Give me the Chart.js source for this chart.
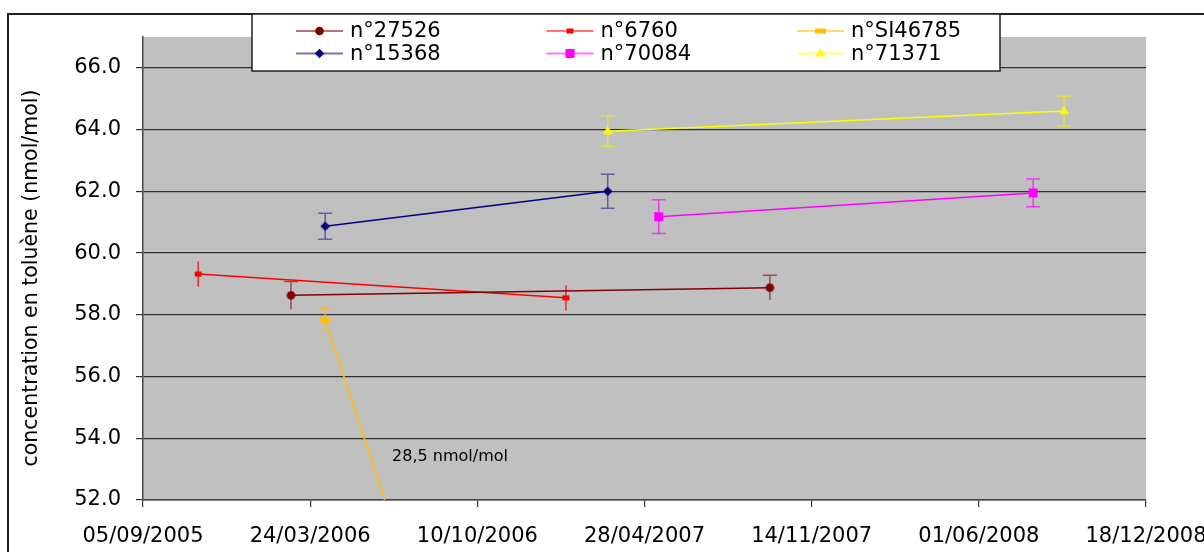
<!DOCTYPE html>
<html>
<head>
<meta charset="utf-8">
<script src="https://cdn.jsdelivr.net/npm/chart.js@4.4.0/dist/chart.umd.min.js"></script>
<style>
  html, body { margin: 0; padding: 0; background: #fff; }
  canvas { display: block; }
</style>
</head>
<body>
<canvas id="toluene-chart" width="1204" height="552"></canvas>
<script>
// dates dd/mm/yyyy, values in nmol/mol, err = half length of the error bar
var axisStart = '05/09/2005';
var axisDays = 1200;
var tickStep = 200;
var yMin = 52, yMax = 67, yStep = 2;
var yTitle = 'concentration en toluène (nmol/mol)';

var names = ['n°27526', 'n°6760', 'n°SI46785', 'n°15368', 'n°70084', 'n°71371'];

var dates27526 = ['01/03/2006', '25/09/2007'];
var vals27526 = [58.63, 58.88];
var err27526 = [0.45, 0.40];

var dates6760 = ['10/11/2005', '24/01/2007'];
var vals6760 = [59.32, 58.55];
var err6760 = [0.41, 0.41];

var datesSI46785 = ['11/04/2006', '03/04/2007'];
var valsSI46785 = [57.84, 28.5];
var errSI46785 = [0.38, 0.38];

var dates15368 = ['11/04/2006', '15/03/2007'];
var vals15368 = [60.87, 62.0];
var err15368 = [0.42, 0.55];

var dates70084 = ['15/05/2007', '05/08/2008'];
var vals70084 = [61.18, 61.95];
var err70084 = [0.55, 0.45];

var dates71371 = ['15/03/2007', '11/09/2008'];
var vals71371 = [63.95, 64.6];
var err71371 = [0.50, 0.48];

// note for the point that falls off the chart
var noteText = '28,5 nmol/mol';
var noteDate = '30/06/2006';
var noteValue = 53.4;

var FONT = 'DejaVu Sans';

function toDay(s) {
  var p = s.split('/');
  return Date.UTC(+p[2], +p[1] - 1, +p[0]) / 86400000;
}
var day0 = toDay(axisStart);

function fmtDay(v) {
  var d = new Date((day0 + v) * 86400000);
  var dd = ('0' + d.getUTCDate()).slice(-2);
  var mm = ('0' + (d.getUTCMonth() + 1)).slice(-2);
  return dd + '/' + mm + '/' + d.getUTCFullYear();
}

function pts(dates, vals) {
  return dates.map(function (d, i) { return { x: toDay(d) - day0, y: vals[i] }; });
}

// markers
var markers = [
  { type: 'circle', r: 4.3 },
  { type: 'rect', w: 7, h: 5 },
  { type: 'rect', w: 11, h: 5 },
  { type: 'diamond', r: 4.8 },
  { type: 'rect', w: 9, h: 9 },
  { type: 'triangle', r: 5 }
];
var colors = ['#800000', '#FF0000', '#FFC000', '#000080', '#FF00FF', '#FFFF00'];
var barColors = ['rgba(128,0,0,0.6)', 'rgba(255,0,0,0.8)', 'rgba(255,192,0,0.85)',
                 'rgba(0,0,128,0.5)', 'rgba(255,0,255,0.7)', 'rgba(240,240,0,0.65)'];
var caps = [[true, false], [false, false], [true, false], [true, true], [true, true], [true, true]];

function drawMarker(ctx, m, x, y, color) {
  ctx.fillStyle = color;
  ctx.beginPath();
  if (m.type === 'circle') {
    ctx.arc(x, y, m.r, 0, Math.PI * 2);
  } else if (m.type === 'diamond') {
    ctx.moveTo(x, y - m.r); ctx.lineTo(x + m.r, y); ctx.lineTo(x, y + m.r); ctx.lineTo(x - m.r, y);
    ctx.closePath();
  } else if (m.type === 'triangle') {
    ctx.moveTo(x, y - m.r); ctx.lineTo(x + m.r, y + m.r * 0.6); ctx.lineTo(x - m.r, y + m.r * 0.6);
    ctx.closePath();
  } else {
    ctx.rect(x - m.w / 2, y - m.h / 2, m.w, m.h);
  }
  ctx.fill();
}

function markerImage(m, color) {
  var c = document.createElement('canvas');
  c.width = 15; c.height = 15;
  drawMarker(c.getContext('2d'), m, 7.5, 7.5, color);
  return c;
}

var allData = [
  [dates27526, vals27526, err27526],
  [dates6760, vals6760, err6760],
  [datesSI46785, valsSI46785, errSI46785],
  [dates15368, vals15368, err15368],
  [dates70084, vals70084, err70084],
  [dates71371, vals71371, err71371]
];

var datasets = allData.map(function (s, i) {
  return {
    label: names[i],
    data: pts(s[0], s[1]),
    errors: s[2],
    borderColor: colors[i],
    backgroundColor: colors[i],
    borderWidth: 1.5,
    pointStyle: markerImage(markers[i], colors[i]),
    pointRadius: 5,
    tension: 0,
    fill: false
  };
});

var bgPlugin = {
  id: 'bg',
  beforeDraw: function (chart) {
    var ctx = chart.ctx, a = chart.chartArea;
    ctx.save();
    ctx.fillStyle = '#fff';
    ctx.fillRect(0, 0, chart.width, chart.height);
    ctx.fillStyle = '#C0C0C0';
    ctx.fillRect(a.left, a.top, a.right - a.left, a.bottom - a.top);
    ctx.strokeStyle = '#222';
    ctx.lineWidth = 2;
    ctx.strokeRect(8, 14, 1400, 800);
    // y axis title
    ctx.translate(32, 278);
    ctx.rotate(-Math.PI / 2);
    ctx.fillStyle = '#000';
    ctx.font = '20.5px "' + FONT + '"';
    ctx.textAlign = 'center';
    ctx.textBaseline = 'middle';
    ctx.fillText(yTitle, 0, 0);
    ctx.restore();
  }
};

var errorBars = {
  id: 'errorBars',
  beforeDatasetsDraw: function (chart) {
    var ctx = chart.ctx, a = chart.chartArea;
    var xs = chart.scales.x, ys = chart.scales.y;
    ctx.save();
    ctx.beginPath();
    ctx.rect(a.left, a.top, a.right - a.left, a.bottom - a.top);
    ctx.clip();
    ctx.lineWidth = 1.5;
    chart.data.datasets.forEach(function (ds, k) {
      ctx.strokeStyle = barColors[k];
      ds.data.forEach(function (p, i) {
        var x = xs.getPixelForValue(p.x);
        var y1 = ys.getPixelForValue(p.y + ds.errors[i]);
        var y2 = ys.getPixelForValue(p.y - ds.errors[i]);
        ctx.beginPath();
        ctx.moveTo(x, y1); ctx.lineTo(x, y2);
        if (caps[k][0]) { ctx.moveTo(x - 7, y1); ctx.lineTo(x + 7, y1); }
        if (caps[k][1]) { ctx.moveTo(x - 7, y2); ctx.lineTo(x + 7, y2); }
        ctx.stroke();
      });
    });
    ctx.restore();
  }
};

var legendBox = {
  id: 'legendBox',
  afterDraw: function (chart) {
    var ctx = chart.ctx;
    ctx.save();
    // note next to the SI46785 line
    ctx.fillStyle = '#000';
    ctx.font = '16px "' + FONT + '"';
    ctx.textBaseline = 'middle';
    ctx.fillText(noteText, chart.scales.x.getPixelForValue(toDay(noteDate) - day0),
                 chart.scales.y.getPixelForValue(noteValue));

    ctx.fillStyle = '#fff';
    ctx.fillRect(252, 14, 748, 57);
    ctx.strokeStyle = '#222';
    ctx.lineWidth = 1.5;
    ctx.strokeRect(252, 14, 748, 57);
    ctx.font = '21px "' + FONT + '"';
    for (var i = 0; i < names.length; i++) {
      var col = i % 3, row = Math.floor(i / 3);
      var x0 = 296 + col * 250.5;
      var y = 31 + row * 22.5;
      ctx.globalAlpha = 0.55;
      ctx.strokeStyle = colors[i];
      ctx.lineWidth = 2;
      ctx.beginPath();
      ctx.moveTo(x0, y); ctx.lineTo(x0 + 47, y);
      ctx.stroke();
      ctx.globalAlpha = 1;
      drawMarker(ctx, markers[i], x0 + 23.5, y, colors[i]);
      ctx.fillStyle = '#000';
      ctx.fillText(names[i], x0 + 54, y + 1);
    }
    ctx.restore();
  }
};

new Chart(document.getElementById('toluene-chart'), {
  type: 'line',
  data: { datasets: datasets },
  options: {
    responsive: false,
    animation: false,
    devicePixelRatio: 1,
    layout: { padding: { top: 37, right: 58, bottom: 0, left: 0 } },
    plugins: { legend: { display: false }, tooltip: { enabled: false } },
    scales: {
      x: {
        type: 'linear',
        min: 0,
        max: axisDays,
        ticks: {
          stepSize: tickStep,
          autoSkip: false,
          maxRotation: 0,
          color: '#000',
          padding: 17,
          font: { family: FONT, size: 21 },
          callback: function (v) { return fmtDay(v); }
        },
        grid: { drawOnChartArea: false, drawTicks: true, tickLength: 7, color: '#333', lineWidth: 1.2 },
        border: { color: '#444', width: 1.5 },
        afterFit: function (s) { s.height = 52; s.paddingLeft = 0; s.paddingRight = 0; }
      },
      y: {
        min: yMin,
        max: yMax,
        ticks: {
          stepSize: yStep,
          includeBounds: false,
          color: '#000',
          padding: 15,
          font: { family: FONT, size: 21 },
          callback: function (v) { return v.toFixed(1); }
        },
        grid: { color: '#303030', lineWidth: 1.2, tickLength: 7 },
        border: { color: '#444', width: 1.5 },
        afterFit: function (s) { s.width = 143; }
      }
    }
  },
  plugins: [bgPlugin, errorBars, legendBox]
});
</script>
</body>
</html>
